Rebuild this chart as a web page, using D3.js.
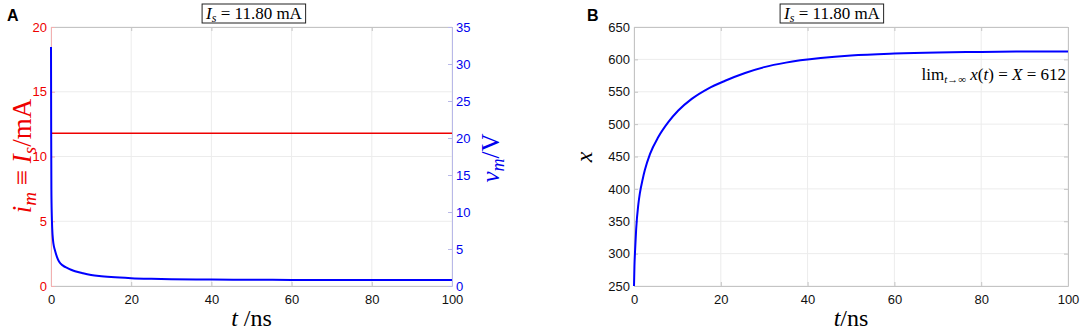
<!DOCTYPE html>
<html>
<head>
<meta charset="utf-8">
<script src="https://cdn.jsdelivr.net/npm/d3@7"></script>
<style>
  body { margin: 0; background: #fff; }
  .tick text { font-family: "Liberation Sans", Arial, sans-serif; font-size: 13px; }
  .tex { font-family: "Liberation Serif", "DejaVu Serif", serif; }
</style>
</head>
<body>
<div id="chart"></div>
<script>
// ---- data ----
const timeTicks = [0, 20, 40, 60, 80, 100];
const currentTicks = [0, 5, 10, 15, 20];
const voltageTicks = [0, 5, 10, 15, 20, 25, 30, 35];
const stateTicks = [250, 300, 350, 400, 450, 500, 550, 600, 650];

const sourceCurrent = 11.8;   // mA, flat red line
const limitValue = 612;

// membrane voltage v_m (V) against t (ns)
const vmTime   = [0, 0.05, 0.1, 0.2, 0.3, 0.5, 0.75, 1, 1.5, 2, 3, 4, 5, 6, 8, 10, 12, 15, 20, 25, 30, 40, 50, 60, 70, 80, 90, 100];
const vmValues = [32.3, 20, 13, 9.5, 7.8, 6.2, 5.3, 4.8, 3.9, 3.3, 2.75, 2.45, 2.2, 2.0, 1.72, 1.5, 1.35, 1.2, 1.05, 0.97, 0.92, 0.87, 0.84, 0.82, 0.81, 0.8, 0.8, 0.8];

// state variable x against t (ns)
const xTime   = [0, 0.1, 0.25, 0.5, 1, 1.35, 2, 2.5, 3.7, 5.6, 7.9, 10.2, 13.3, 17.1, 21, 25.6, 30, 35, 43, 50, 60, 70, 80, 90, 100];
const xValues = [250, 280, 305, 338, 376, 393, 415, 429, 454, 480, 503, 521, 539, 555, 567, 579, 588, 595, 602, 606, 609, 610.7, 611.5, 612, 612];

const width = 1084, height = 335;

const svg = d3.select("#chart").append("svg")
    .attr("width", width)
    .attr("height", height)
    .style("background", "#fff");

// panel A scales
const xA = d3.scaleLinear().domain([0, 100]).range([51, 452]);
const yA = d3.scaleLinear().domain([0, 20]).range([286, 27]);
const yA2 = d3.scaleLinear().domain([0, 35]).range([286, 27]);

// panel B scales
const xB = d3.scaleLinear().domain([0, 100]).range([634, 1068]);
const yB = d3.scaleLinear().domain([250, 650]).range([286, 27]);

function drawGrid(x, y, xt, yt) {
    const g = svg.append("g").attr("stroke", "#ececec").attr("stroke-width", 1);
    g.selectAll(".gx").data(xt).enter().append("line")
        .attr("x1", d => x(d)).attr("x2", d => x(d))
        .attr("y1", y.range()[0]).attr("y2", y.range()[1]);
    g.selectAll(".gy").data(yt).enter().append("line")
        .attr("x1", x.range()[0]).attr("x2", x.range()[1])
        .attr("y1", d => y(d)).attr("y2", d => y(d));
}

function styleAxis(g, lineColor, textColor) {
    g.select(".domain").attr("stroke", lineColor);
    g.selectAll(".tick line").attr("stroke", lineColor);
    g.selectAll(".tick text").attr("fill", textColor);
}

function drawFrame(x, y, tickVals) {
    // bottom with labels
    const bottom = svg.append("g")
        .attr("transform", "translate(0," + y.range()[0] + ")")
        .call(d3.axisBottom(x).tickValues(tickVals).tickSizeInner(-4).tickSizeOuter(0).tickPadding(9));
    styleAxis(bottom, "#c4c4c4", "#111");
    // top without labels
    const top = svg.append("g")
        .attr("transform", "translate(0," + y.range()[1] + ")")
        .call(d3.axisTop(x).tickValues(tickVals).tickSizeInner(-4).tickSizeOuter(0).tickFormat(""));
    styleAxis(top, "#c4c4c4", "#111");
}

function titleBox(cx, label) {
    const g = svg.append("g").attr("class", "tex");
    const t = g.append("text")
        .attr("x", cx).attr("y", 19)
        .attr("text-anchor", "middle")
        .attr("font-size", 17);
    t.append("tspan").attr("font-style", "italic").text("I");
    t.append("tspan").attr("font-style", "italic").attr("font-size", 12).attr("dy", 3).text("s");
    t.append("tspan").attr("dy", -3).text(" = " + label + " mA");
    const bb = t.node().getBBox();
    g.insert("rect", "text")
        .attr("x", bb.x - 3).attr("y", 4)
        .attr("width", bb.width + 6).attr("height", 19)
        .attr("fill", "#fff").attr("stroke", "#222").attr("stroke-width", 1);
}

const line = d3.line().curve(d3.curveMonotoneX);

// ================= Panel A =================
drawGrid(xA, yA, timeTicks, currentTicks);

svg.append("line")
    .attr("x1", xA(0)).attr("x2", xA(100))
    .attr("y1", yA(sourceCurrent)).attr("y2", yA(sourceCurrent))
    .attr("stroke", "#ee0000").attr("stroke-width", 1.5);

drawFrame(xA, yA, timeTicks);

const leftA = svg.append("g")
    .attr("transform", "translate(" + xA(0) + ",0)")
    .call(d3.axisLeft(yA).tickValues(currentTicks).tickSizeInner(-4).tickSizeOuter(0).tickPadding(4));
styleAxis(leftA, "#f2b0b0", "#ee0000");

const rightA = svg.append("g")
    .attr("transform", "translate(" + xA(100) + ",0)")
    .call(d3.axisRight(yA2).tickValues(voltageTicks).tickSizeInner(-4).tickSizeOuter(0).tickPadding(4));
styleAxis(rightA, "#b8b8e8", "#0000ee");

svg.append("path")
    .datum(vmTime.map((t, i) => [xA(t), yA2(vmValues[i])]))
    .attr("d", line)
    .attr("fill", "none")
    .attr("stroke", "#0000ff")
    .attr("stroke-width", 2);

titleBox(254, "11.80");

// left y label
const lyl = svg.append("text").attr("class", "tex")
    .attr("transform", "translate(31,156) rotate(-90)")
    .attr("text-anchor", "middle")
    .attr("font-size", 27)
    .attr("fill", "#ee0000");
lyl.append("tspan").attr("font-style", "italic").text("i");
lyl.append("tspan").attr("font-style", "italic").attr("font-size", 19).attr("dy", 5).text("m");
lyl.append("tspan").attr("dy", -5).text(" ≡ ");
lyl.append("tspan").attr("font-style", "italic").text("I");
lyl.append("tspan").attr("font-style", "italic").attr("font-size", 19).attr("dy", 5).text("s");
lyl.append("tspan").attr("dy", -5).text("/mA");

// right y label
const ryl = svg.append("text").attr("class", "tex")
    .attr("transform", "translate(499,158) rotate(-90)")
    .attr("text-anchor", "middle")
    .attr("font-size", 25)
    .attr("fill", "#0000ee");
ryl.append("tspan").attr("font-style", "italic").text("v");
ryl.append("tspan").attr("font-style", "italic").attr("font-size", 18).attr("dy", 5).text("m");
ryl.append("tspan").attr("dy", -5).text("/V");

// x label A
const xlA = svg.append("text").attr("class", "tex")
    .attr("x", xA(50)).attr("y", 326)
    .attr("text-anchor", "middle")
    .attr("font-size", 24);
xlA.append("tspan").attr("font-style", "italic").text("t");
xlA.append("tspan").text(" /ns");

// panel letter
svg.append("text")
    .attr("x", 7).attr("y", 21)
    .attr("font-family", "Liberation Sans, Arial, sans-serif")
    .attr("font-weight", "bold").attr("font-size", 16)
    .text("A");

// ================= Panel B =================
drawGrid(xB, yB, timeTicks, stateTicks);
drawFrame(xB, yB, timeTicks);

const leftB = svg.append("g")
    .attr("transform", "translate(" + xB(0) + ",0)")
    .call(d3.axisLeft(yB).tickValues(stateTicks).tickSizeInner(-4).tickSizeOuter(0).tickPadding(4));
styleAxis(leftB, "#c4c4c4", "#111");

const rightB = svg.append("g")
    .attr("transform", "translate(" + xB(100) + ",0)")
    .call(d3.axisRight(yB).tickValues(stateTicks).tickSizeInner(-4).tickSizeOuter(0).tickFormat(""));
styleAxis(rightB, "#c4c4c4", "#111");

svg.append("path")
    .datum(xTime.map((t, i) => [xB(t), yB(xValues[i])]))
    .attr("d", line)
    .attr("fill", "none")
    .attr("stroke", "#0000ff")
    .attr("stroke-width", 2);

titleBox(832, "11.80");

// annotation
const ann = svg.append("text").attr("class", "tex")
    .attr("x", 1066).attr("y", 80)
    .attr("text-anchor", "end")
    .attr("font-size", 17);
ann.append("tspan").text("lim");
ann.append("tspan").attr("font-size", 11).attr("dy", 3)
    .html("<tspan font-style='italic'>t</tspan>→∞");
ann.append("tspan").attr("dy", -3).attr("font-style", "italic").text(" x");
ann.append("tspan").text("(");
ann.append("tspan").attr("font-style", "italic").text("t");
ann.append("tspan").text(") = ");
ann.append("tspan").attr("font-style", "italic").text("X");
ann.append("tspan").text(" = " + limitValue);

// y label B
svg.append("text").attr("class", "tex")
    .attr("transform", "translate(592,157) rotate(-90)")
    .attr("text-anchor", "middle")
    .attr("font-size", 24)
    .attr("font-style", "italic")
    .text("x");

// x label B
const xlB = svg.append("text").attr("class", "tex")
    .attr("x", xB(50)).attr("y", 326)
    .attr("text-anchor", "middle")
    .attr("font-size", 24);
xlB.append("tspan").attr("font-style", "italic").text("t");
xlB.append("tspan").text("/ns");

svg.append("text")
    .attr("x", 587).attr("y", 21)
    .attr("font-family", "Liberation Sans, Arial, sans-serif")
    .attr("font-weight", "bold").attr("font-size", 16)
    .text("B");
</script>
</body>
</html>
